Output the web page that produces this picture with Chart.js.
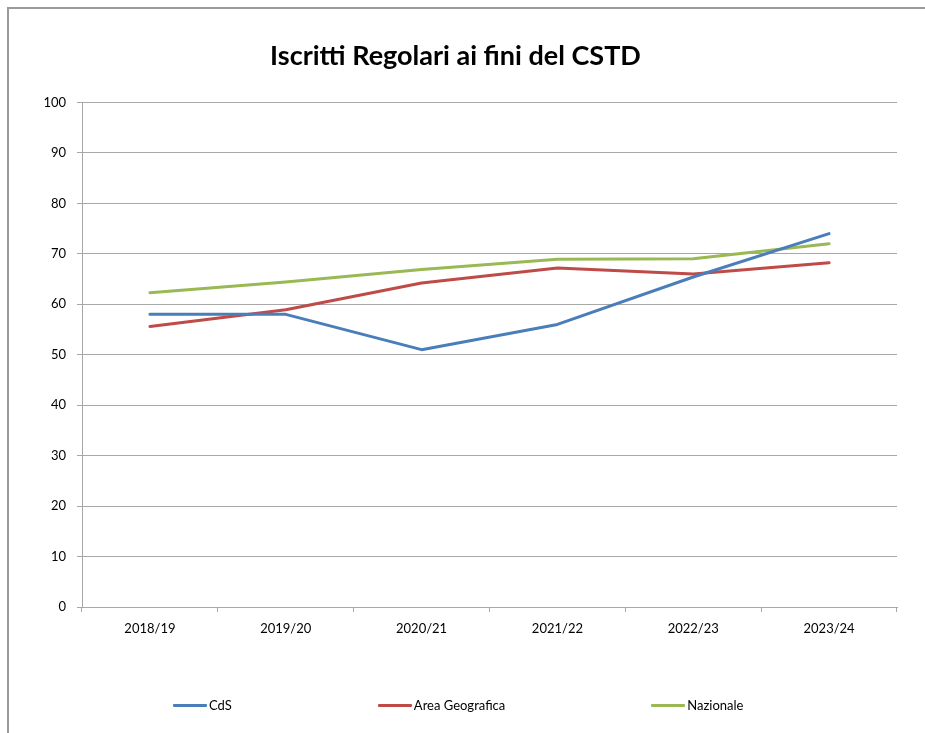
<!DOCTYPE html>
<html>
<head>
<meta charset="utf-8">
<script src="https://cdn.jsdelivr.net/npm/chart.js@4"></script>
<style>
    body { margin: 0; background: #fff; overflow: hidden; }
    #cornice {
        position: absolute; left: 7px; top: 7px; width: 940px; height: 740px;
        border-left: 2px solid #9a9a9a; border-top: 2px solid #9a9a9a;
    }
    #contenitore { position: absolute; left: 0; top: 0; width: 925px; height: 733px; }
    #legenda {
        position: absolute; left: 173px; top: 697px;
        display: flex; gap: 146px; align-items: center;
        font-family: Lato, "Open Sans", sans-serif; font-size: 13px; color: #000;
    }
    .voce { display: flex; align-items: center; }
    .voce span.linea { display: inline-block; width: 34px; height: 3px; margin-right: 2px; border-radius: 1px; }
</style>
</head>
<body>
<div id="cornice"></div>
<div id="contenitore"><canvas id="grafico" width="925" height="733"></canvas></div>
<div id="legenda"></div>

<script>
// Dati
const anni = ["2018/19", "2019/20", "2020/21", "2021/22", "2022/23", "2023/24"];
const valoriCdS = [58, 58, 51, 56, 65.4, 74];
const valoriArea = [55.6, 58.9, 64.2, 67.2, 66, 68.2];
const valoriNazionale = [62.3, 64.4, 66.9, 68.9, 69, 72];
const nomiSerie = ["CdS", "Area Geografica", "Nazionale"];
const coloriSerie = ["#4A7EBB", "#BE4B48", "#98B954"];

const FONT = 'Lato, "Open Sans", sans-serif';
const GRIGIO = "#a8a8a8";

function serie(i, dati) {
    return {
        label: nomiSerie[i],
        data: dati,
        borderColor: coloriSerie[i],
        backgroundColor: coloriSerie[i],
        borderWidth: 3,
        borderCapStyle: "round",
        borderJoinStyle: "round",
        tension: 0,
        pointRadius: 0,
        fill: false
    };
}

const ctx = document.getElementById("grafico").getContext("2d");
const grafico = new Chart(ctx, {
    type: "line",
    data: {
        labels: anni,
        datasets: [serie(0, valoriCdS), serie(1, valoriArea), serie(2, valoriNazionale)]
    },
    options: {
        responsive: false,
        animation: false,
        layout: { padding: { left: 14, right: 28, top: 0, bottom: 86 } },
        plugins: {
            legend: { display: false },
            tooltip: { enabled: false },
            title: {
                display: true,
                text: "Iscritti Regolari ai fini del CSTD",
                color: "#000",
                font: { family: FONT, size: 27, weight: "bold" },
                padding: { top: 40, bottom: 30 }
            }
        },
        scales: {
            x: {
                offset: true,
                afterFit: s => { s.height = 40; },
                grid: { offset: true, drawOnChartArea: false, drawTicks: true, tickLength: 5, color: GRIGIO },
                border: { color: GRIGIO, width: 1 },
                ticks: { color: "#000", padding: 9, font: { family: FONT, size: 13 }, maxRotation: 0 }
            },
            y: {
                min: 0,
                max: 100,
                afterFit: s => { s.width = 68; },
                grid: { color: GRIGIO, lineWidth: 1, tickLength: 5 },
                border: { color: GRIGIO, width: 1 },
                ticks: { stepSize: 10, color: "#000", padding: 11, font: { family: FONT, size: 13 } }
            }
        }
    }
});

// Legenda HTML costruita dalle serie del grafico
const legenda = document.getElementById("legenda");
grafico.data.datasets.forEach(ds => {
    const voce = document.createElement("div");
    voce.className = "voce";
    voce.innerHTML = `<span class="linea" style="background:${ds.borderColor}"></span>${ds.label}`;
    legenda.appendChild(voce);
});
</script>
</body>
</html>
